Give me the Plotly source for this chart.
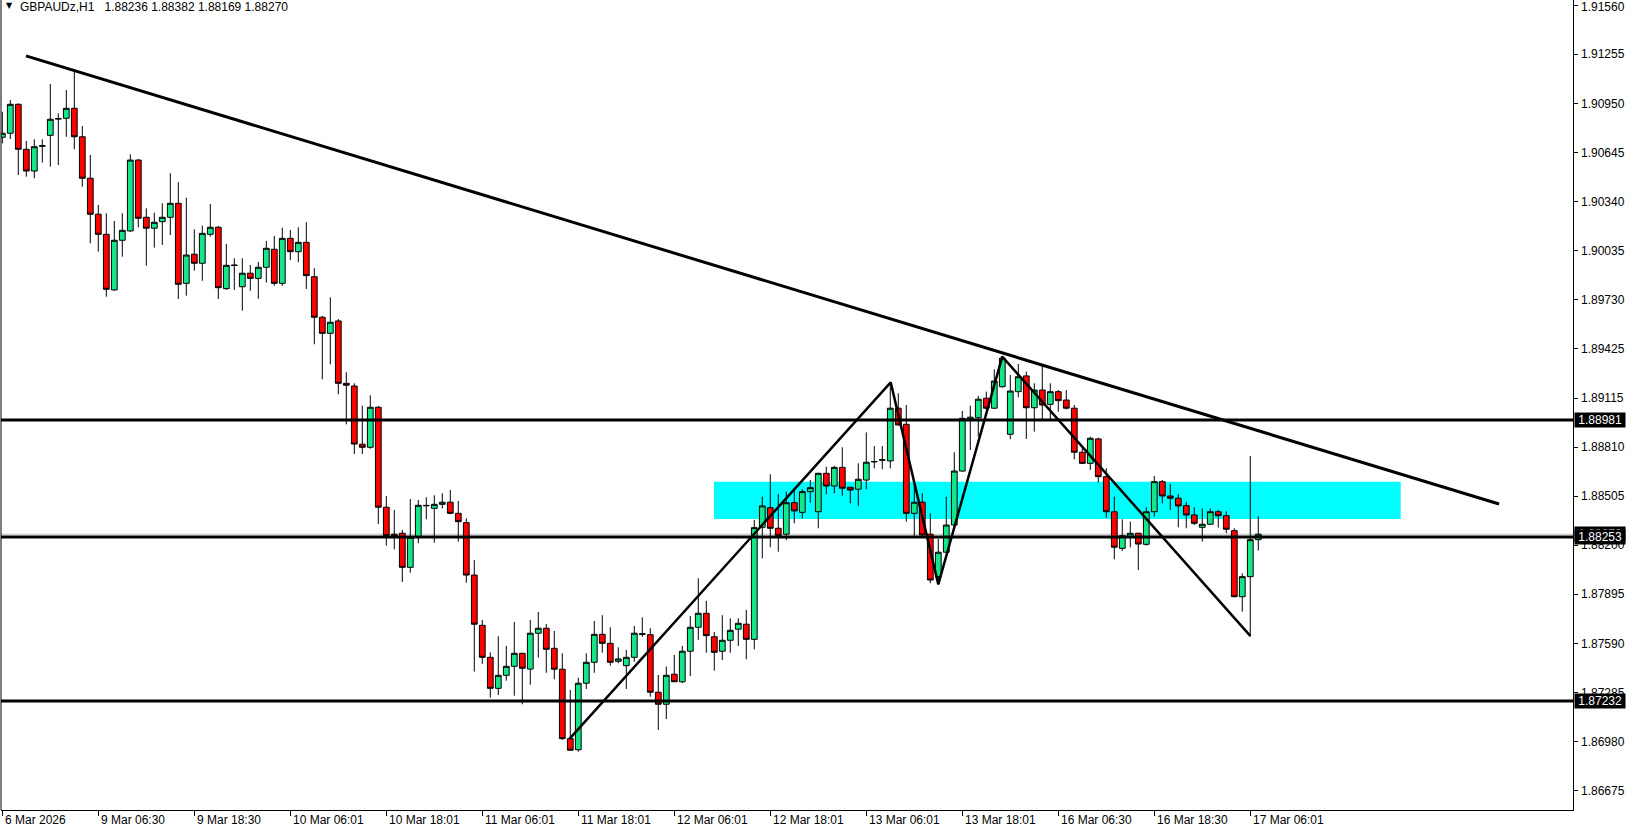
import plotly.graph_objects as go

# ---------------- data ----------------
opens = [1.90740,1.90765,1.90945,1.90665,1.90530,1.90684,1.90752,1.90853,1.90858,1.90920,
         1.90743,1.90485,1.90261,1.90136,1.89790,1.90099,1.90157,1.90598,1.90242,1.90174,
         1.90215,1.90242,1.90329,1.89831,1.90012,1.89956,1.90136,1.90180,1.89798,1.89942,
         1.89810,1.89894,1.89862,1.89931,1.90043,1.89831,1.90111,1.90028,1.90086,1.89872,
         1.89620,1.89520,1.89597,1.89209,1.89192,1.88830,1.88811,1.89060,1.88438,1.88270,
         1.88276,1.88064,1.88255,1.88447,1.88431,1.88456,1.88469,1.88400,1.88342,1.88016,
         1.87703,1.87504,1.87311,1.87392,1.87448,1.87529,1.87431,1.87654,1.87685,1.87560,
         1.87430,1.86998,1.86929,1.87343,1.87473,1.87647,1.87591,1.87479,1.87452,1.87504,
         1.87651,1.87645,1.87287,1.87212,1.87399,1.87352,1.87542,1.87691,1.87778,1.87632,
         1.87542,1.87610,1.87679,1.87710,1.87616,1.88313,1.88435,1.88307,1.88270,1.88466,
         1.88406,1.88535,1.88410,1.88649,1.88570,1.88686,1.88562,1.88550,1.88607,1.88720,
         1.88731,1.88726,1.89054,1.88954,1.88400,1.88469,1.88270,1.88006,1.88158,1.88327,
         1.88663,1.88985,1.88995,1.89116,1.89054,1.89188,1.88892,1.89157,1.89255,1.89057,
         1.89167,1.89078,1.89157,1.89105,1.89054,1.88780,1.88711,1.88863,1.88628,1.88410,
         1.88182,1.88255,1.88276,1.88207,1.88410,1.88597,1.88508,1.88494,1.88448,1.88390,
         1.88313,1.88332,1.88410,1.88385,1.88292,1.87881,1.88006,1.88236]
highs = [1.90899,1.90972,1.90951,1.90717,1.90727,1.90727,1.91071,1.90889,1.91034,1.91148,
         1.90810,1.90630,1.90319,1.90267,1.90219,1.90267,1.90634,1.90605,1.90298,1.90271,
         1.90329,1.90516,1.90460,1.90364,1.90167,1.90190,1.90325,1.90188,1.90076,1.89987,
         1.89987,1.89945,1.89964,1.90095,1.90126,1.90177,1.90163,1.90180,1.90211,1.89925,
         1.89628,1.89744,1.89609,1.89278,1.89209,1.89070,1.89134,1.89068,1.88508,1.88421,
         1.88296,1.88489,1.88483,1.88500,1.88512,1.88525,1.88545,1.88477,1.88369,1.88110,
         1.87736,1.87535,1.87635,1.87575,1.87724,1.87531,1.87736,1.87786,1.87711,1.87668,
         1.87529,1.87301,1.87377,1.87529,1.87730,1.87766,1.87691,1.87566,1.87550,1.87699,
         1.87753,1.87685,1.87394,1.87446,1.87519,1.87575,1.87761,1.87996,1.87855,1.87662,
         1.87766,1.87747,1.87747,1.87799,1.88359,1.88504,1.88643,1.88520,1.88535,1.88550,
         1.88550,1.88607,1.88652,1.88690,1.88696,1.88811,1.88565,1.88711,1.88904,1.88819,
         1.88819,1.89205,1.89147,1.89074,1.88607,1.88525,1.88400,1.88240,1.88504,1.88780,
         1.89037,1.89070,1.89130,1.89157,1.89296,1.89379,1.89261,1.89329,1.89281,1.89209,
         1.89317,1.89209,1.89167,1.89167,1.89074,1.88815,1.88877,1.88871,1.88680,1.88504,
         1.88363,1.88348,1.88279,1.88438,1.88632,1.88607,1.88583,1.88520,1.88472,1.88438,
         1.88431,1.88431,1.88421,1.88412,1.88307,1.88027,1.88757,1.88382]
lows = [1.90702,1.90729,1.90505,1.90495,1.90485,1.90582,1.90557,1.90567,1.90743,1.90665,
        1.90432,1.90080,1.90028,1.89748,1.89785,1.89997,1.90152,1.90180,1.89941,1.90053,
        1.90070,1.90132,1.89734,1.89754,1.89910,1.89847,1.90121,1.89734,1.89790,1.89790,
        1.89661,1.89785,1.89735,1.89835,1.89816,1.89816,1.89976,1.89962,1.89796,1.89452,
        1.89234,1.89327,1.89141,1.88954,1.88769,1.88769,1.88802,1.88334,1.88199,1.88176,
        1.87973,1.88031,1.88214,1.88363,1.88217,1.88431,1.88394,1.88224,1.87968,1.87415,
        1.87463,1.87253,1.87270,1.87359,1.87265,1.87212,1.87334,1.87502,1.87408,1.87367,
        1.86990,1.86922,1.86917,1.87307,1.87408,1.87533,1.87452,1.87467,1.87307,1.87477,
        1.87632,1.87259,1.87052,1.87120,1.87350,1.87343,1.87388,1.87612,1.87533,1.87421,
        1.87487,1.87533,1.87575,1.87492,1.87554,1.88120,1.88189,1.88161,1.88234,1.88338,
        1.88369,1.88466,1.88307,1.88518,1.88525,1.88510,1.88462,1.88446,1.88550,1.88680,
        1.88674,1.88680,1.88946,1.88348,1.88259,1.88255,1.87965,1.87965,1.88155,1.88324,
        1.88660,1.88794,1.88877,1.89043,1.89049,1.89182,1.88861,1.89122,1.88863,1.88908,
        1.88981,1.88985,1.89032,1.89047,1.88736,1.88707,1.88670,1.88591,1.88373,1.88114,
        1.88166,1.88189,1.88047,1.88199,1.88379,1.88462,1.88421,1.88313,1.88307,1.88327,
        1.88224,1.88327,1.88311,1.88276,1.87878,1.87788,1.87632,1.88169]
closes = [1.90765,1.90945,1.90665,1.90530,1.90681,1.90687,1.90852,1.90856,1.90920,1.90743,
          1.90485,1.90261,1.90136,1.89794,1.90099,1.90161,1.90598,1.90236,1.90174,1.90211,
          1.90242,1.90329,1.89825,1.90007,1.89956,1.90142,1.90180,1.89804,1.89943,1.89944,
          1.89894,1.89862,1.89931,1.90049,1.89831,1.90111,1.90028,1.90086,1.89879,1.89620,
          1.89520,1.89589,1.89209,1.89197,1.88831,1.88811,1.89060,1.88438,1.88261,1.88259,
          1.88064,1.88251,1.88450,1.88449,1.88456,1.88469,1.88400,1.88348,1.88016,1.87710,
          1.87504,1.87311,1.87392,1.87448,1.87529,1.87436,1.87654,1.87685,1.87554,1.87430,
          1.86998,1.86926,1.87343,1.87473,1.87647,1.87591,1.87473,1.87494,1.87504,1.87654,
          1.87647,1.87287,1.87212,1.87392,1.87352,1.87542,1.87691,1.87778,1.87639,1.87535,
          1.87610,1.87672,1.87716,1.87616,1.88311,1.88446,1.88307,1.88261,1.88466,1.88415,
          1.88535,1.88560,1.88649,1.88570,1.88686,1.88556,1.88545,1.88612,1.88718,1.88722,
          1.88733,1.89054,1.88950,1.88400,1.88469,1.88265,1.87985,1.88158,1.88327,1.88663,
          1.88991,1.88998,1.89110,1.89054,1.89223,1.89365,1.89161,1.89250,1.89057,1.89167,
          1.89074,1.89157,1.89101,1.89054,1.88780,1.88711,1.88867,1.88628,1.88410,1.88189,
          1.88261,1.88276,1.88209,1.88410,1.88597,1.88508,1.88494,1.88446,1.88390,1.88338,
          1.88332,1.88410,1.88385,1.88301,1.87881,1.88006,1.88236,1.88270]

bars = list(range(len(opens)))

time_tick_bars = [0, 12, 24, 36, 48, 60, 72, 84, 96, 108, 120, 132, 144, 156]
time_tick_labels = ["6 Mar 2026", "9 Mar 06:30", "9 Mar 18:30", "10 Mar 06:01", "10 Mar 18:01",
                    "11 Mar 06:01", "11 Mar 18:01", "12 Mar 06:01", "12 Mar 18:01",
                    "13 Mar 06:01", "13 Mar 18:01", "16 Mar 06:30", "16 Mar 18:30", "17 Mar 06:01"]

price_ticks = [1.91560, 1.91255, 1.90950, 1.90645, 1.90340, 1.90035, 1.89730, 1.89425, 1.89115,
               1.88810, 1.88505, 1.88200, 1.87895, 1.87590, 1.87285, 1.86980, 1.86675]

levels = [1.88981, 1.88253, 1.87232]
bid_price = 1.88270

trend_bars = [2.96, 187.1]
trend_prices = [1.91246, 1.88458]

zigzag_bars = [70.9, 111.05, 117.0, 125.0, 156.0]
zigzag_prices = [1.86996, 1.89215, 1.87958, 1.89375, 1.87637]

zone_bars = [88.96, 174.8]
zone_prices = [1.88365, 1.88597]

header = "GBPAUDz,H1\u00a0\u00a0\u00a01.88236 1.88382 1.88169 1.88270"

# ---------------- figure ----------------
GREEN = "#14E68A"
RED = "#FF0000"
FONT = "Liberation Sans"

fig = go.Figure()

fig.add_trace(go.Candlestick(
    x=bars, open=opens, high=highs, low=lows, close=closes,
    increasing=dict(fillcolor=GREEN, line=dict(color="black", width=1)),
    decreasing=dict(fillcolor=RED, line=dict(color="black", width=1)),
    whiskerwidth=0, showlegend=False, hoverinfo="skip"))

fig.add_trace(go.Scatter(x=trend_bars, y=trend_prices, mode="lines",
                         line=dict(color="black", width=3), showlegend=False, hoverinfo="skip"))
fig.add_trace(go.Scatter(x=zigzag_bars, y=zigzag_prices, mode="lines",
                         line=dict(color="black", width=2.5), showlegend=False, hoverinfo="skip"))

shapes = []
shapes.append(dict(type="rect", xref="x", yref="y", x0=zone_bars[0], x1=zone_bars[1],
                   y0=zone_prices[0], y1=zone_prices[1], fillcolor="#00FFFF",
                   line=dict(width=0), layer="below"))
shapes.append(dict(type="line", xref="paper", yref="y", x0=0, x1=1, y0=bid_price, y1=bid_price,
                   line=dict(color="#C0C0C0", width=1), layer="below"))
for lv in levels:
    shapes.append(dict(type="line", xref="paper", yref="y", x0=0, x1=1, y0=lv, y1=lv,
                       line=dict(color="black", width=3), layer="above"))
shapes.append(dict(type="line", xref="paper", yref="paper", x0=0, x1=0, y0=0, y1=1,
                   line=dict(color="black", width=1)))

annotations = []
annotations.append(dict(xref="paper", yref="paper", x=0, y=1, xanchor="left", yanchor="top",
                        xshift=3, yshift=1, text="▼", showarrow=False,
                        font=dict(family="DejaVu Sans", size=8, color="black")))
annotations.append(dict(xref="paper", yref="paper", x=0, y=1, xanchor="left", yanchor="top",
                        xshift=17, yshift=2, text=header, showarrow=False,
                        font=dict(family=FONT, size=12, color="black")))
# time axis labels (to the right of their tick marks)
for b, lab in zip(time_tick_bars, time_tick_labels):
    annotations.append(dict(xref="x", yref="paper", x=b, y=0, xanchor="left", yanchor="top",
                            xshift=1, yshift=-1, text=lab, showarrow=False,
                            font=dict(family=FONT, size=12, color="black")))
# price axis labels
for v in price_ticks:
    annotations.append(dict(xref="paper", yref="y", x=1, y=v, xanchor="left", yanchor="middle",
                            xshift=6, yshift=(-2 if v == max(price_ticks) else 0),
                            text=f"{v:.5f}", showarrow=False,
                            font=dict(family=FONT, size=12, color="black")))
# highlighted level labels
for val in [bid_price] + levels:
    annotations.append(dict(xref="paper", yref="y", x=1, y=val, xanchor="left", yanchor="middle",
                            xshift=1, text=f"\u00a0{val:.5f}\u00a0", showarrow=False, bgcolor="black",
                            borderpad=0, font=dict(family=FONT, size=12, color="white")))

fig.update_layout(
    width=1636, height=826,
    margin=dict(l=1, r=63, t=0, b=16, autoexpand=False),
    paper_bgcolor="white", plot_bgcolor="white",
    showlegend=False, boxgap=0.28, boxgroupgap=0,
    shapes=shapes, annotations=annotations,
    xaxis=dict(range=[-0.1625, 196.34], rangeslider=dict(visible=False),
               tickvals=time_tick_bars, showticklabels=False, automargin=False,
               ticks="outside", ticklen=5, tickcolor="black", tickwidth=1,
               showline=True, linecolor="black", linewidth=1,
               showgrid=False, zeroline=False),
    yaxis=dict(side="right", range=[1.86554, 1.91594], automargin=False,
               tickvals=price_ticks, showticklabels=False,
               ticks="outside", ticklen=4, tickcolor="black", tickwidth=1,
               showline=True, linecolor="black", linewidth=1,
               showgrid=False, zeroline=False),
)

fig.write_html("out.html", config={"displayModeBar": False},
               post_script="document.body.style.margin='0';document.body.style.overflow='hidden';")
